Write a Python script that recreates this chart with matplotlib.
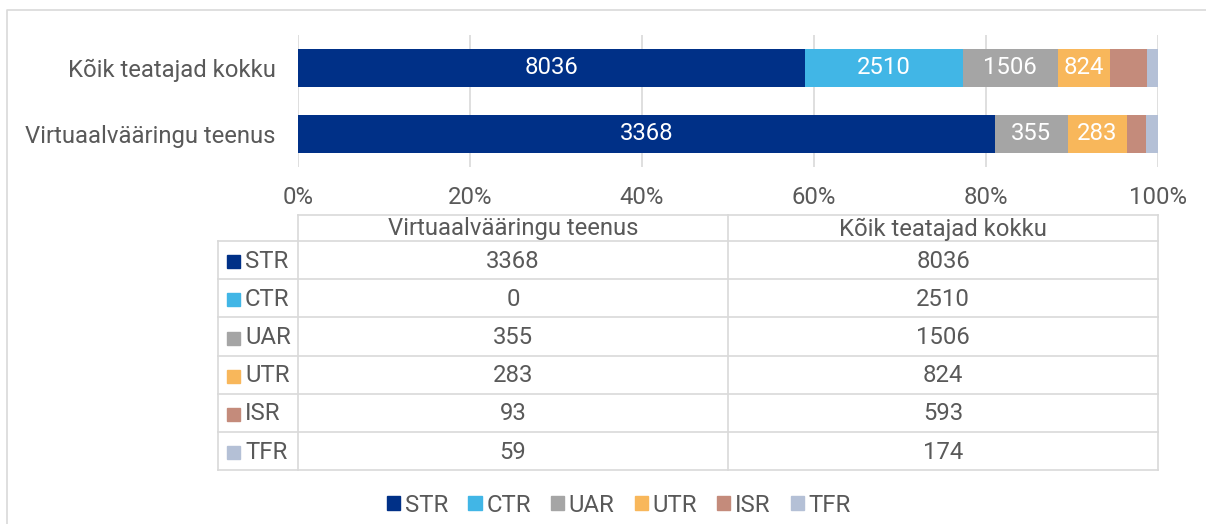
import matplotlib
matplotlib.use("Agg")
import matplotlib.pyplot as plt
from matplotlib.patches import Rectangle, Patch
import numpy as np

plt.rcParams['font.family'] = ['Roboto', 'DejaVu Sans']

# andmed
categories = ['Virtuaalvääringu teenus', 'Kõik teatajad kokku']
series = ['STR', 'CTR', 'UAR', 'UTR', 'ISR', 'TFR']
virtual_vals = [3368, 0, 355, 283, 93, 59]
total_vals = [8036, 2510, 1506, 824, 593, 174]
colors = ['#003087', '#41b6e6', '#a5a5a5', '#f8b75b', '#c48b7b', '#b4c0d6']
ticks = [0, 0.2, 0.4, 0.6, 0.8, 1.0]
tick_labels = ['0%', '20%', '40%', '60%', '80%', '100%']

TXT = '#595959'
GRID = '#d9d9d9'
FS = 17.2
W, H = 1206, 524

fig = plt.figure(figsize=(W / 100, H / 100), dpi=100)

# lõuendi kiht pikslites (raam, tabel, legend)
ov = fig.add_axes([0, 0, 1, 1], zorder=0)
ov.set_xlim(0, W)
ov.set_ylim(H, 0)
ov.axis('off')

# välimine raam
ov.plot([7, 7, W + 5], [H + 5, 10, 10], color=GRID, lw=1.2)

# graafik
x0, x1, y0, y1 = 298, 1158, 35, 167
ax = fig.add_axes([x0 / W, 1 - y1 / H, (x1 - x0) / W, (y1 - y0) / H], zorder=2)
ax.patch.set_alpha(0)

data = np.array([virtual_vals, total_vals], dtype=float)
shares = data / data.sum(axis=1, keepdims=True)
ypos = np.arange(len(categories))
left = np.zeros(len(categories))
for i, name in enumerate(series):
    bars = ax.barh(ypos, shares[:, i], left=left, height=0.59, color=colors[i], zorder=3)
    for j, b in enumerate(bars):
        if shares[j, i] >= 0.05:
            ax.text(left[j] + shares[j, i] / 2, ypos[j], f'{int(data[j, i])}',
                    ha='center', va='center', color='white', fontsize=FS, zorder=4)
    left += shares[:, i]

ax.set_xlim(0, 1)
ax.set_ylim(-0.5, 1.5)
ax.set_xticks(ticks)
ax.set_xticklabels(tick_labels, fontsize=FS, color=TXT)
ax.set_yticks(ypos)
ax.set_yticklabels(categories, fontsize=FS, color=TXT)
ax.tick_params(length=0, pad=14, axis='x')
ax.tick_params(length=0, pad=16, axis='y')
ax.grid(axis='x', color=GRID, lw=1.2, zorder=0)
for s in ax.spines.values():
    s.set_visible(False)

# andmetabel
tl, tm = 218, (x0 + x1) / 2
hdr_top, row_top, row_h = 215, 241, 38.2
n = len(series)
tb = row_top + n * row_h
lk = dict(color=GRID, lw=1.2)
ov.plot([x0, x1], [hdr_top, hdr_top], **lk)
ov.plot([tl, x1], [row_top, row_top], **lk)
for k in range(1, n + 1):
    ov.plot([tl, x1], [row_top + k * row_h] * 2, **lk)
ov.plot([tl, tl], [row_top, tb], **lk)
for xv in (x0, tm, x1):
    ov.plot([xv, xv], [hdr_top, tb], **lk)

ov.text((x0 + tm) / 2, (hdr_top + row_top) / 2 + 1, categories[0], ha='center', va='center',
        fontsize=FS, color=TXT)
ov.text((tm + x1) / 2, (hdr_top + row_top) / 2 + 1, categories[1], ha='center', va='center',
        fontsize=FS, color=TXT)
for k, name in enumerate(series):
    yc = row_top + (k + 0.5) * row_h + 1
    ov.add_patch(Rectangle((227, yc - 6), 13, 13, color=colors[k]))
    ov.text(245, yc, name, ha='left', va='center', fontsize=FS, color=TXT)
    ov.text((x0 + tm) / 2, yc, f'{virtual_vals[k]}', ha='center', va='center', fontsize=FS, color=TXT)
    ov.text((tm + x1) / 2, yc, f'{total_vals[k]}', ha='center', va='center', fontsize=FS, color=TXT)

# legend
handles = [Patch(color=c, label=s) for s, c in zip(series, colors)]
fig.legend(handles=handles, loc='center', bbox_to_anchor=(619 / W, 1 - 505 / H), ncol=6,
           frameon=False, fontsize=FS, labelcolor=TXT, handlelength=0.55, handleheight=0.55,
           handletextpad=0.2, columnspacing=0.84, borderaxespad=0)

fig.savefig('out.png', dpi=100)
